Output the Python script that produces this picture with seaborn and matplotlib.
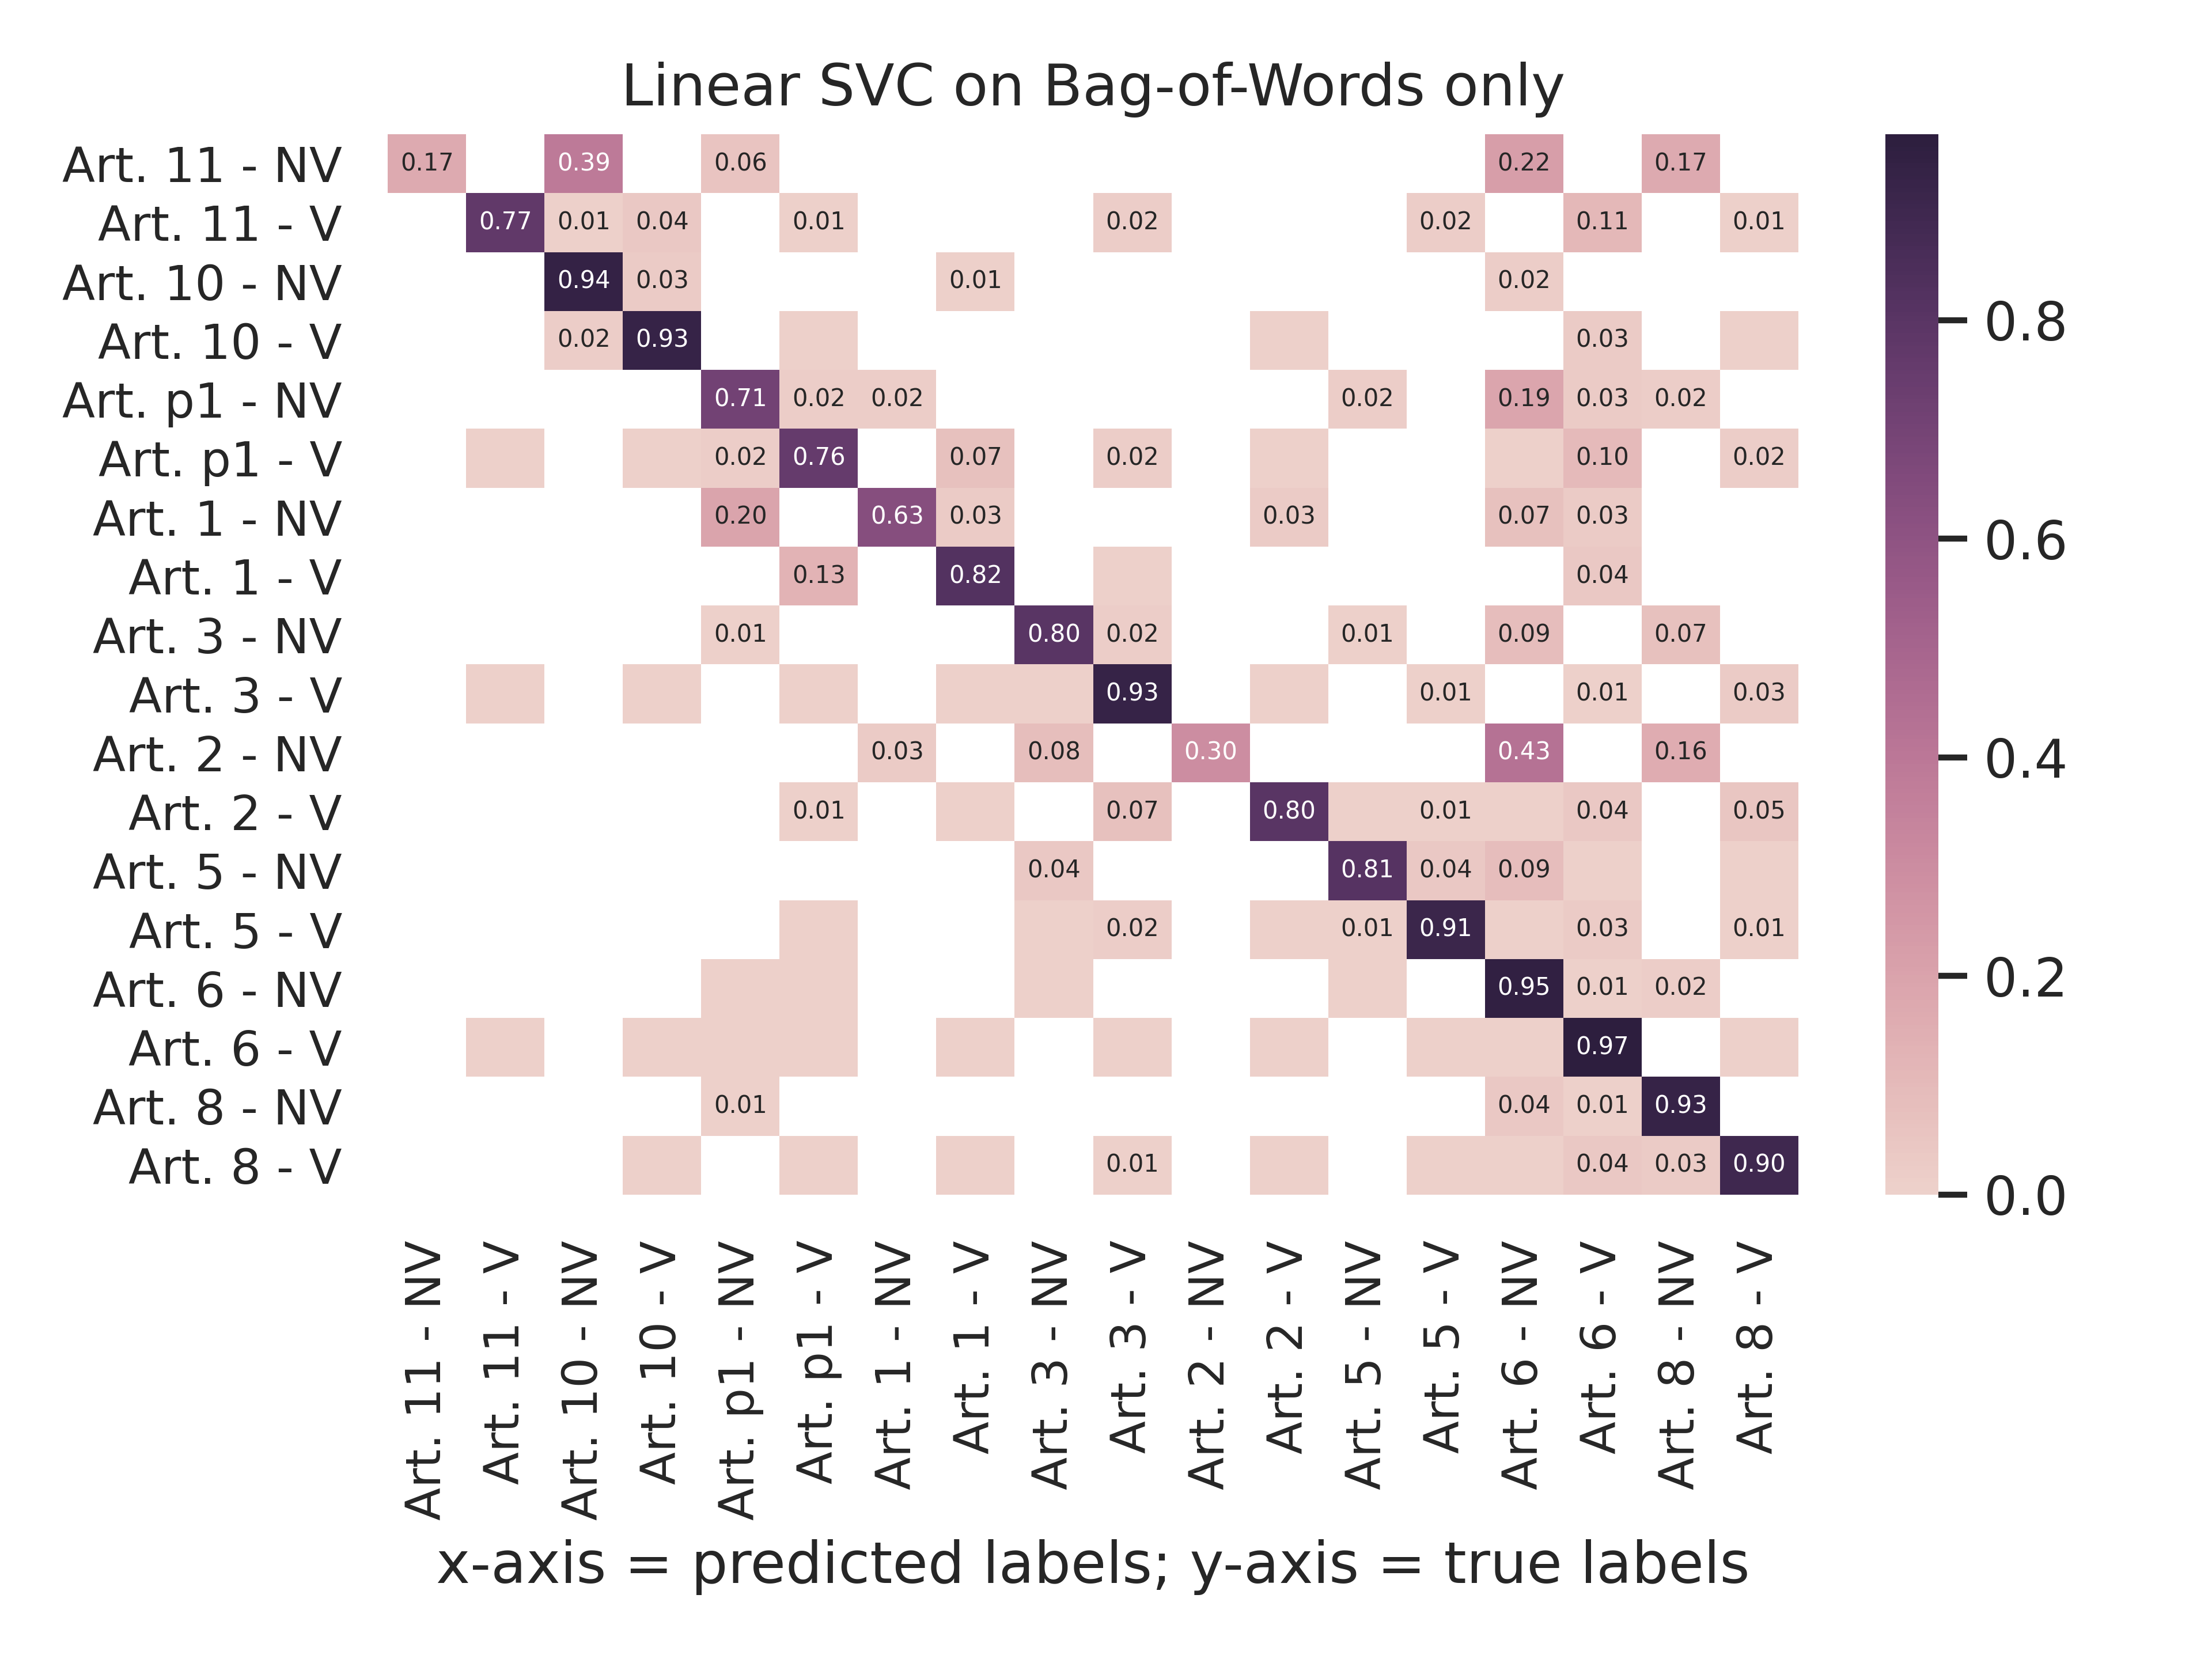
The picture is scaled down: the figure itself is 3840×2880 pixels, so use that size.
import numpy as np
import matplotlib
matplotlib.use("Agg")
import matplotlib.pyplot as plt
import seaborn as sns

# ── Labels (true = rows, predicted = columns) ────────────────
labels = [
    "Art. 11 - NV", "Art. 11 - V", "Art. 10 - NV", "Art. 10 - V",
    "Art. p1 - NV", "Art. p1 - V", "Art. 1 - NV", "Art. 1 - V",
    "Art. 3 - NV", "Art. 3 - V", "Art. 2 - NV", "Art. 2 - V",
    "Art. 5 - NV", "Art. 5 - V", "Art. 6 - NV", "Art. 6 - V",
    "Art. 8 - NV", "Art. 8 - V",
]

# T = non-zero share that rounds to 0.00 (coloured cell, no label)
T = 0.004

# ── Normalised confusion matrix, one row per true label ───────
art11_nv = [0.17, 0, 0.39, 0, 0.06, 0, 0, 0, 0, 0, 0, 0, 0, 0, 0.22, 0, 0.17, 0]
art11_v  = [0, 0.77, 0.01, 0.04, 0, 0.01, 0, 0, 0, 0.02, 0, 0, 0, 0.02, 0, 0.11, 0, 0.01]
art10_nv = [0, 0, 0.94, 0.03, 0, 0, 0, 0.01, 0, 0, 0, 0, 0, 0, 0.02, 0, 0, 0]
art10_v  = [0, 0, 0.02, 0.93, 0, T, 0, 0, 0, 0, 0, T, 0, 0, 0, 0.03, 0, T]
artp1_nv = [0, 0, 0, 0, 0.71, 0.02, 0.02, 0, 0, 0, 0, 0, 0.02, 0, 0.19, 0.03, 0.02, 0]
artp1_v  = [0, T, 0, T, 0.02, 0.76, 0, 0.07, 0, 0.02, 0, T, 0, 0, T, 0.10, 0, 0.02]
art1_nv  = [0, 0, 0, 0, 0.20, 0, 0.63, 0.03, 0, 0, 0, 0.03, 0, 0, 0.07, 0.03, 0, 0]
art1_v   = [0, 0, 0, 0, 0, 0.13, 0, 0.82, 0, T, 0, 0, 0, 0, 0, 0.04, 0, 0]
art3_nv  = [0, 0, 0, 0, 0.01, 0, 0, 0, 0.80, 0.02, 0, 0, 0.01, 0, 0.09, 0, 0.07, 0]
art3_v   = [0, T, 0, T, 0, T, 0, T, T, 0.93, 0, T, 0, 0.01, 0, 0.01, 0, 0.03]
art2_nv  = [0, 0, 0, 0, 0, 0, 0.03, 0, 0.08, 0, 0.30, 0, 0, 0, 0.43, 0, 0.16, 0]
art2_v   = [0, 0, 0, 0, 0, 0.01, 0, T, 0, 0.07, 0, 0.80, T, 0.01, T, 0.04, 0, 0.05]
art5_nv  = [0, 0, 0, 0, 0, 0, 0, 0, 0.04, 0, 0, 0, 0.81, 0.04, 0.09, T, 0, T]
art5_v   = [0, 0, 0, 0, 0, T, 0, 0, T, 0.02, 0, T, 0.01, 0.91, T, 0.03, 0, 0.01]
art6_nv  = [0, 0, 0, 0, T, T, 0, 0, T, 0, 0, 0, T, 0, 0.95, 0.01, 0.02, 0]
art6_v   = [0, T, 0, T, T, T, 0, T, 0, T, 0, T, 0, T, T, 0.97, 0, T]
art8_nv  = [0, 0, 0, 0, 0.01, 0, 0, 0, 0, 0, 0, 0, 0, 0, 0.04, 0.01, 0.93, 0]
art8_v   = [0, 0, 0, T, 0, T, 0, T, 0, 0.01, 0, T, 0, T, T, 0.04, 0.03, 0.90]

cm = np.array([
    art11_nv, art11_v, art10_nv, art10_v, artp1_nv, artp1_v,
    art1_nv, art1_v, art3_nv, art3_v, art2_nv, art2_v,
    art5_nv, art5_v, art6_nv, art6_v, art8_nv, art8_v,
])

# zero cells stay white, tiny cells get no label
mask = cm == 0
annot = np.where(cm >= 0.005, np.vectorize(lambda v: f"{v:.2f}")(cm), "")

sns.set_theme(style="white", context="notebook")

fig = plt.figure(figsize=(6.4, 4.8))
ax = fig.add_axes([0.1753, 0.2799, 0.6377, 0.6392])
cax = fig.add_axes([0.8523, 0.2799, 0.0240, 0.6392])

sns.heatmap(cm, mask=mask, annot=annot, fmt="", annot_kws={"size": 5},
            cmap=sns.cubehelix_palette(as_cmap=True), vmin=0,
            xticklabels=labels, yticklabels=labels, ax=ax, cbar_ax=cax)

ax.set_xticklabels(labels, rotation=90, fontsize=10)
ax.set_yticklabels(labels, rotation=0, fontsize=10, va="center_baseline")
cax.tick_params(labelsize=11)

ax.set_title("Linear SVC on Bag-of-Words only", fontsize=12)
ax.set_xlabel("x-axis = predicted labels; y-axis = true labels", fontsize=12)

fig.savefig("out.png", dpi=600)
plt.close(fig)
